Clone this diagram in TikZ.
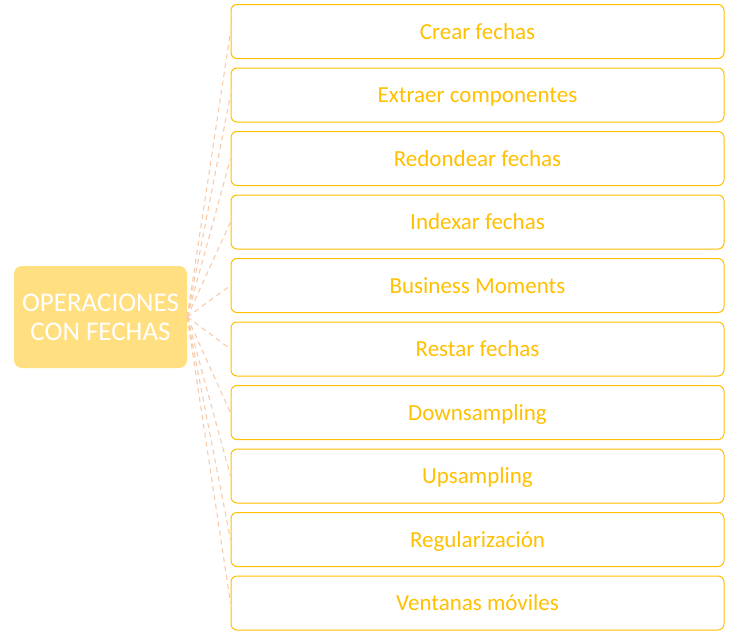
\documentclass[tikz,border=0pt]{standalone}
\usepackage{fontspec}
\setmainfont{Carlito}
\definecolor{gold}{HTML}{FFC000}
\definecolor{softgold}{HTML}{FFDF80}
\definecolor{peach}{HTML}{F8CBAD}
\begin{document}
\begin{tikzpicture}[x=1pt,y=-1pt,
  hub/.style={fill=softgold, draw=none, rounded corners=8pt, minimum width=173pt, minimum height=102pt,
    text=white, font=\fontsize{27}{29}\selectfont, align=center, inner sep=0pt},
  item/.style={draw=gold, line width=1pt, rounded corners=6pt, fill=white, minimum width=493pt, minimum height=54pt,
    text=gold, font=\fontsize{23}{27}\selectfont, inner sep=0pt, text height=15pt, text depth=0pt},
  link/.style={draw=peach, dashed, line width=1.1pt, dash pattern=on 5pt off 4pt}]
\useasboundingbox (0,0) rectangle (736,640);
\node[hub] (hub) at (100.5,317) {OPERACIONES\\CON FECHAS};
\foreach \name/\y/\label in {
  i1/31.5/Crear fechas,
  i2/95/Extraer componentes,
  i3/158.5/Redondear fechas,
  i4/222/Indexar fechas,
  i5/285.5/Business Moments,
  i6/349/Restar fechas,
  i7/412.5/Downsampling,
  i8/476/Upsampling,
  i9/539.5/Regularización,
  i10/603/Ventanas móviles}{
  \node[item] (\name) at (477.5,\y) {\label};
  \draw[link] (hub.east) -- (\name.west);
}
\end{tikzpicture}
\end{document}
